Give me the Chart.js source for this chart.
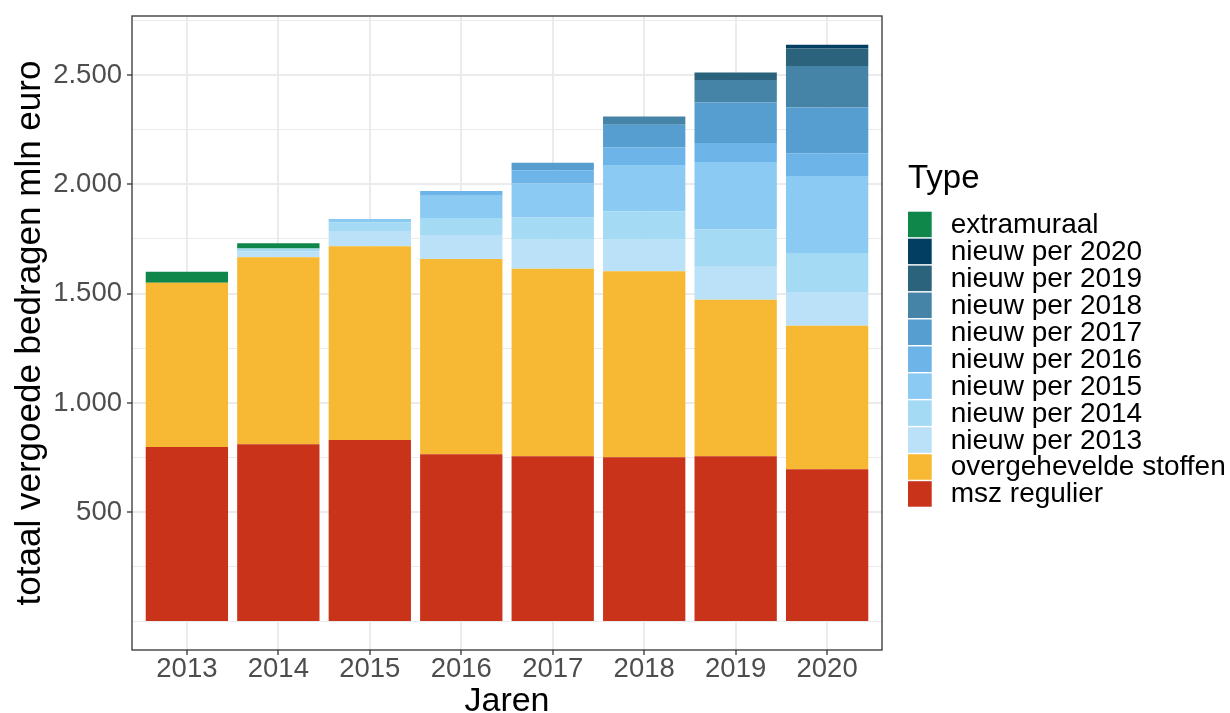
<!DOCTYPE html>
<html>
<head>
<meta charset="utf-8">
<script src="https://cdn.jsdelivr.net/npm/chart.js@4.4.1/dist/chart.umd.min.js"></script>
<style>
  html, body { margin: 0; padding: 0; background: #ffffff; }
  #wrap { width: 1230px; height: 713px; }
</style>
</head>
<body>
<div id="wrap"><canvas id="chart1"></canvas></div>
<script>
// jaren op de x-as
var years = [2013, 2014, 2015, 2016, 2017, 2018, 2019, 2020];

// bedragen in mln euro per type
var mszRegulier  = [799, 811, 830, 765, 756, 752, 756, 697];
var overgeheveld = [751, 856, 887, 893, 858, 850, 716, 656];
var nieuw2013    = [0, 26, 69, 110, 132, 145, 154, 154];
var nieuw2014    = [0, 14, 41, 78, 104, 130, 169, 175];
var nieuw2015    = [0, 0, 14, 102, 154, 211, 307, 356];
var nieuw2016    = [0, 0, 0, 21, 60, 81, 87, 104];
var nieuw2017    = [0, 0, 0, 0, 35, 104, 185, 209];
var nieuw2018    = [0, 0, 0, 0, 0, 37, 103, 190];
var nieuw2019    = [0, 0, 0, 0, 0, 0, 35, 80];
var nieuw2020    = [0, 0, 0, 0, 0, 0, 0, 18];
var extramuraal  = [50, 23, 0, 0, 0, 0, 0, 0];

// van onder naar boven gestapeld
var typeNames  = ["msz regulier", "overgehevelde stoffen", "nieuw per 2013", "nieuw per 2014",
                  "nieuw per 2015", "nieuw per 2016", "nieuw per 2017", "nieuw per 2018",
                  "nieuw per 2019", "nieuw per 2020", "extramuraal"];
var typeValues = [mszRegulier, overgeheveld, nieuw2013, nieuw2014, nieuw2015, nieuw2016,
                  nieuw2017, nieuw2018, nieuw2019, nieuw2020, extramuraal];
var typeColors = ["#c8331a", "#f7b933", "#bae1f7", "#a4daf3", "#8bcaf3", "#6db4e8",
                  "#569ed0", "#4583a7", "#2b627c", "#023e62", "#0f874b"];

// y-as: gelabelde en tussenliggende rasterlijnen
var yBreaks = [500, 1000, 1500, 2000, 2500];
var yMinor  = [0, 250, 750, 1250, 1750, 2250, 2750];

const FONT = '"Liberation Sans", Arial, sans-serif';

function fmt(v) {
  return String(v).replace(/\B(?=(\d{3})+(?!\d))/g, ".");
}

const datasets = typeNames.map(function (name, k) {
  return {
    label: name,
    data: years.map(function (yr, i) {
      var v = typeValues[k][i];
      return { x: yr, y: v === 0 ? null : v };
    }),
    backgroundColor: typeColors[k],
    borderWidth: 0,
    barPercentage: 0.9,
    categoryPercentage: 1.0
  };
});

// rand rond het paneel
const frame = {
  id: 'frame',
  afterDatasetsDraw: function (chart) {
    const a = chart.chartArea, ctx = chart.ctx;
    ctx.save();
    ctx.strokeStyle = '#333333';
    ctx.lineWidth = 1.3;
    ctx.strokeRect(a.left, a.top, a.right - a.left, a.bottom - a.top);
    ctx.restore();
  }
};

// legenda zoals ggplot: titel, blokjes, omgekeerde volgorde
const typeLegend = {
  id: 'typeLegend',
  afterDraw: function (chart) {
    const a = chart.chartArea, ctx = chart.ctx;
    const x0 = a.right + 26;
    const cy = (a.top + a.bottom) / 2;
    const step = 26.95;
    const top0 = cy - 121.3;
    ctx.save();
    ctx.fillStyle = '#000000';
    ctx.font = '33px ' + FONT;
    ctx.textBaseline = 'alphabetic';
    ctx.textAlign = 'left';
    ctx.fillText('Type', x0, cy - 145);
    ctx.font = '28px ' + FONT;
    ctx.textBaseline = 'middle';
    const ds = chart.data.datasets;
    for (var i = 0; i < ds.length; i++) {
      const d = ds[ds.length - 1 - i];
      const t = top0 + step * i;
      ctx.fillStyle = d.backgroundColor;
      ctx.fillRect(x0, t, 23.7, 25.5);
      ctx.fillStyle = '#000000';
      ctx.fillText(d.label, x0 + 42.7, t + 13.5);
    }
    ctx.restore();
  }
};

const config = {
  type: 'bar',
  data: { datasets: datasets },
  options: {
    responsive: true,
    maintainAspectRatio: false,
    animation: false,
    layout: { padding: { top: 16, right: 348, left: 0, bottom: 0 } },
    plugins: {
      legend: { display: false },
      tooltip: { enabled: false }
    },
    scales: {
      x: {
        type: 'linear',
        stacked: true,
        min: 2012.4,
        max: 2020.6,
        offset: false,
        afterBuildTicks: function (s) { s.ticks = years.map(function (v) { return { value: v }; }); },
        afterFit: function (s) { s.height = 63; s.paddingLeft = 0; s.paddingRight = 0; },
        grid: { offset: false, color: '#ebebeb', lineWidth: 2, tickColor: '#333333', tickLength: 5, tickWidth: 1.3 },
        border: { display: false },
        ticks: {
          autoSkip: false, maxRotation: 0, padding: 1, color: '#4d4d4d',
          font: { size: 27.5, lineHeight: 1, family: FONT },
          callback: function (v) { return String(v); }
        },
        title: {
          display: true, text: 'Jaren', color: '#000000',
          font: { size: 34, family: FONT }, padding: { top: 0, bottom: -9 }
        }
      },
      y: {
        stacked: true,
        min: -130,
        max: 2770,
        afterBuildTicks: function (s) {
          s.ticks = yMinor.concat(yBreaks).sort(function (p, q) { return p - q; })
            .map(function (v) { return { value: v }; });
        },
        afterFit: function (s) { s.width = 132; s.paddingTop = 0; s.paddingBottom = 0; },
        grid: {
          color: '#ebebeb',
          lineWidth: function (c) { return c.tick && yBreaks.indexOf(c.tick.value) >= 0 ? 2 : 1; },
          tickColor: function (c) { return c.tick && yBreaks.indexOf(c.tick.value) >= 0 ? '#333333' : 'rgba(0,0,0,0)'; },
          tickLength: 5,
          tickWidth: 1.3
        },
        border: { display: false },
        ticks: {
          autoSkip: false, padding: 5, color: '#4d4d4d',
          font: { size: 27.5, family: FONT },
          callback: function (v) { return yBreaks.indexOf(v) >= 0 ? fmt(v) : ''; }
        },
        title: {
          display: true, text: 'totaal vergoede bedragen mln euro', color: '#000000',
          font: { size: 35, family: FONT }, padding: { top: 9, bottom: 0 }
        }
      }
    }
  },
  plugins: [frame, typeLegend]
};

const myChart = new Chart(document.getElementById('chart1').getContext('2d'), config);
</script>
</body>
</html>
